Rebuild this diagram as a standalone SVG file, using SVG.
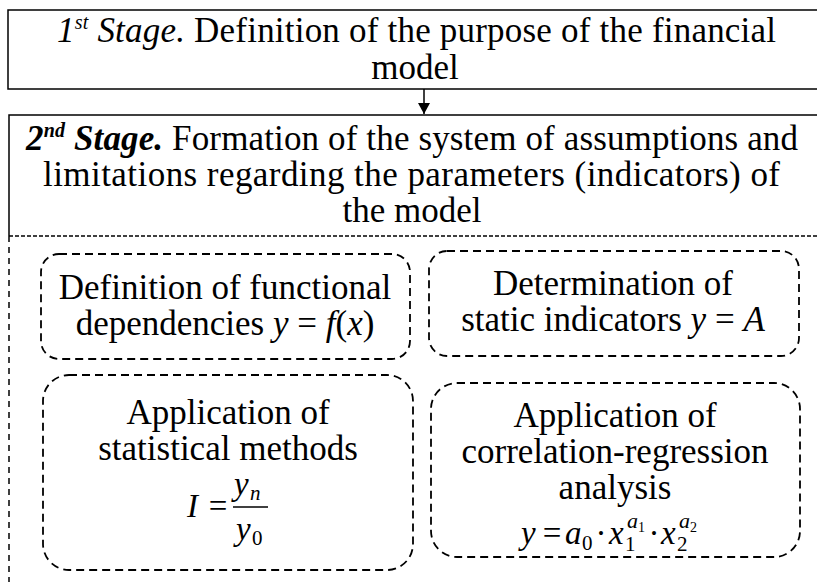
<svg xmlns="http://www.w3.org/2000/svg" width="817" height="582" viewBox="0 0 817 582">
<style>
text{font-family:"Liberation Serif","Times New Roman",serif;font-size:35px;fill:#000}
.c{text-anchor:middle}
.it{font-style:italic}
.bi{font-style:italic;font-weight:bold}
.sup{font-size:20px}
.sm{font-size:21px}
.ss{font-size:22px}
.xs{font-size:14px}
.m{font-size:33px}
.solid{fill:none;stroke:#000;stroke-width:1.5}
.dbox{fill:none;stroke:#000;stroke-width:1.8;stroke-dasharray:8 5}
.dline{fill:none;stroke:#000;stroke-width:1.5;stroke-dasharray:4 2}
.dvert{fill:none;stroke:#000;stroke-width:1.5;stroke-dasharray:6 5}
</style>
<defs>
<marker id="ah" markerWidth="12" markerHeight="12" refX="11" refY="6" orient="auto" markerUnits="userSpaceOnUse">
<path d="M0,0 L11,6 L0,12 Z" fill="#000"/>
</marker>
</defs>

<g id="stage1">
<rect class="solid" x="8" y="10" width="820" height="79"/>
<text x="57" y="42" textLength="719"><tspan class="it">1</tspan><tspan class="it sup" dy="-13">st</tspan><tspan class="it" dy="13"> Stage.</tspan> Definition of the purpose of the financial</text>
<text class="c" x="415" y="79">model</text>
</g>

<g id="connectors">
<line x1="424" y1="89" x2="424" y2="114" stroke="#000" stroke-width="1.5" marker-end="url(#ah)"/>
</g>

<g id="stage2">
<path class="solid" d="M9,236 V115 H830"/>
<line class="dline" x1="9" y1="236" x2="817" y2="236"/>
<line class="dvert" x1="9" y1="236" x2="9" y2="582"/>
<text x="26" y="150" textLength="772"><tspan class="bi">2</tspan><tspan class="bi sup" dy="-13">nd</tspan><tspan class="bi" dy="13"> Stage.</tspan> Formation of the system of assumptions and</text>
<text x="43" y="186" textLength="737">limitations regarding the parameters (indicators) of</text>
<text class="c" x="412" y="222">the model</text>
</g>

<g id="functional">
<rect class="dbox" x="41" y="254" width="369" height="105" rx="18"/>
<text class="c" x="225" y="299">Definition of functional</text>
<text class="c" x="225" y="335">dependencies <tspan class="it">y</tspan> = <tspan class="it">f</tspan>(<tspan class="it">x</tspan>)</text>
</g>

<g id="static">
<rect class="dbox" x="429" y="251" width="370" height="105" rx="18"/>
<text class="c" x="613" y="295">Determination of</text>
<text class="c" x="613" y="331">static indicators <tspan class="it">y</tspan> = <tspan class="it">A</tspan></text>
</g>

<g id="statistical">
<rect class="dbox" x="43" y="375" width="370" height="195" rx="26"/>
<text class="c" x="228" y="424">Application of</text>
<text class="c" x="228" y="460">statistical methods</text>
<text class="it m" x="187" y="517">I</text>
<text class="c m" x="218" y="517">=</text>
<line x1="233" y1="507" x2="268" y2="507" stroke="#000" stroke-width="1.3"/>
<text class="it m" x="234" y="495">y</text>
<text class="it sm" x="250" y="500">n</text>
<text class="it m" x="236" y="540">y</text>
<text class="sm" x="252" y="545">0</text>
</g>

<g id="regression">
<rect class="dbox" x="431" y="383" width="369" height="174" rx="26"/>
<text class="c" x="615" y="427">Application of</text>
<text class="c" x="615" y="463">correlation-regression</text>
<text class="c" x="615" y="499">analysis</text>
<text class="it m" x="521" y="544">y</text>
<text class="c m" x="552" y="544">=</text>
<text class="it m" x="565" y="544">a</text>
<text class="sm" x="582" y="550">0</text>
<text class="c m" x="601" y="544">·</text>
<text class="it m" x="609" y="544">x</text>
<text class="sm" x="625" y="551">1</text>
<text class="it ss" x="627" y="528">a</text>
<text class="xs" x="638" y="532">1</text>
<text class="c m" x="654" y="544">·</text>
<text class="it m" x="661" y="544">x</text>
<text class="sm" x="677" y="551">2</text>
<text class="it ss" x="679" y="528">a</text>
<text class="xs" x="690" y="532">2</text>
</g>
</svg>
